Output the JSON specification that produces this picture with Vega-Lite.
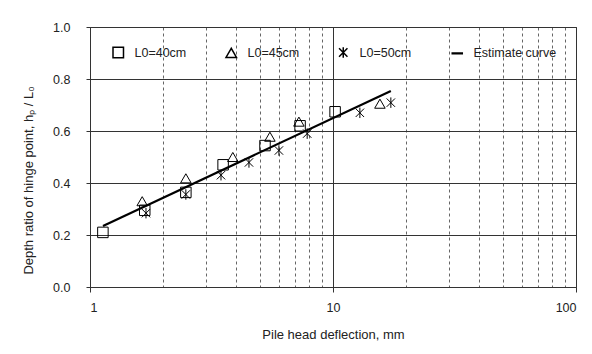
{
  "$schema": "https://vega.github.io/schema/vega-lite/v6.json",
  "width": 486,
  "height": 260,
  "autosize": {"type": "none"},
  "padding": {"left": 90, "top": 27, "right": 16, "bottom": 67},
  "background": "white",
  "config": {
    "view": {"stroke": "#333", "strokeWidth": 1},
    "font": "Liberation Sans"
  },
  "data": {
    "values": [
      {"series": "L0=40cm", "defl": 1.13, "ratio": 0.21},
      {"series": "L0=40cm", "defl": 1.68, "ratio": 0.295},
      {"series": "L0=40cm", "defl": 2.48, "ratio": 0.364},
      {"series": "L0=40cm", "defl": 3.53, "ratio": 0.47},
      {"series": "L0=40cm", "defl": 5.25, "ratio": 0.544},
      {"series": "L0=40cm", "defl": 7.32, "ratio": 0.62},
      {"series": "L0=40cm", "defl": 10.2, "ratio": 0.674},
      {"series": "L0=45cm", "defl": 1.64, "ratio": 0.33},
      {"series": "L0=45cm", "defl": 2.48, "ratio": 0.418},
      {"series": "L0=45cm", "defl": 3.87, "ratio": 0.5},
      {"series": "L0=45cm", "defl": 5.5, "ratio": 0.578},
      {"series": "L0=45cm", "defl": 7.24, "ratio": 0.636},
      {"series": "L0=45cm", "defl": 15.6, "ratio": 0.705},
      {"series": "L0=50cm", "defl": 1.7, "ratio": 0.284},
      {"series": "L0=50cm", "defl": 2.48, "ratio": 0.356},
      {"series": "L0=50cm", "defl": 3.46, "ratio": 0.43},
      {"series": "L0=50cm", "defl": 4.51, "ratio": 0.479},
      {"series": "L0=50cm", "defl": 5.99, "ratio": 0.525},
      {"series": "L0=50cm", "defl": 7.83, "ratio": 0.59},
      {"series": "L0=50cm", "defl": 12.9, "ratio": 0.67},
      {"series": "L0=50cm", "defl": 17.3, "ratio": 0.709},
      {"series": "Estimate curve", "defl": 1.131, "ratio": 0.235},
      {"series": "Estimate curve", "defl": 17.3, "ratio": 0.754}
    ]
  },
  "encoding": {
    "x": {
      "field": "defl",
      "type": "quantitative",
      "title": "Pile head deflection, mm",
      "scale": {"type": "log", "domain": [1, 100], "nice": false},
      "axis": {
        "values": [1, 2, 3, 4, 5, 6, 7, 8, 9, 10, 20, 30, 40, 50, 60, 70, 80, 90, 100],
        "labelExpr": "(datum.value == 1 || datum.value == 10 || datum.value == 100) ? format(datum.value, 'd') : ''",
        "domain": false,
        "grid": true,
        "gridColor": {"condition": {"test": "datum.value == 1 || datum.value == 10 || datum.value == 100", "value": "#333"}, "value": "#666"},
        "gridDash": {"condition": {"test": "datum.value == 1 || datum.value == 10 || datum.value == 100", "value": []}, "value": [3, 3]},
        "tickSize": {"condition": {"test": "datum.value == 1 || datum.value == 10 || datum.value == 100", "value": 5}, "value": 0},
        "tickColor": "#333",
        "labelPadding": 9,
        "labelFontSize": 12.5,
        "labelColor": "#222",
        "titleFontSize": 13,
        "titleFontWeight": "normal",
        "titleColor": "#222",
        "titlePadding": 15
      }
    },
    "y": {
      "field": "ratio",
      "type": "quantitative",
      "title": "Depth ratio of hinge point, hₚ / L₀",
      "scale": {"domain": [0, 1], "nice": false, "zero": true},
      "axis": {
        "values": [0, 0.2, 0.4, 0.6, 0.8, 1.0],
        "format": ".1f",
        "domain": false,
        "grid": true,
        "gridColor": "#333",
        "tickSize": 4,
        "tickColor": "#333",
        "labelPadding": 16,
        "labelFontSize": 12.5,
        "labelColor": "#222",
        "titleFontSize": 13,
        "titleFontWeight": "normal",
        "titleColor": "#222",
        "titleX": -55,
        "titleY": 153
      }
    }
  },
  "layer": [
    {
      "data": {"values": [{}]},
      "mark": {"type": "rect", "color": "white", "strokeWidth": 0},
      "encoding": {
        "x": {"datum": 1, "type": "quantitative", "title": "Pile head deflection, mm"},
        "x2": {"datum": 100},
        "y": {"datum": 0.81, "type": "quantitative", "title": "Depth ratio of hinge point, hₚ / L₀"},
        "y2": {"datum": 0.975}
      }
    },
    {
      "transform": [{"filter": "datum.series == 'Estimate curve'"}],
      "mark": {"type": "line", "color": "black", "strokeWidth": 2.2},
      "encoding": {}
    },
    {
      "transform": [{"filter": "datum.series != 'Estimate curve'"}],
      "mark": {"type": "point", "filled": false, "color": "black", "strokeWidth": 1, "size": 110, "opacity": 1},
      "encoding": {
        "shape": {
          "field": "series",
          "type": "nominal",
          "scale": {
            "domain": ["L0=40cm", "L0=45cm", "L0=50cm", "Estimate curve"],
            "range": ["square", "triangle-up", "M-0.8,-0.8L0.8,0.8M-0.8,0.8L0.8,-0.8M0,-1L0,1", "M-1.1,-0.09L1.1,-0.09M-1.1,0L1.1,0M-1.1,0.09L1.1,0.09"]
          },
          "legend": {
            "orient": "none",
            "legendX": 22,
            "legendY": 19,
            "direction": "horizontal",
            "title": null,
            "labelFontSize": 12.5,
            "labelColor": "#222",
            "labelOffset": 10,
            "symbolSize": 110,
            "symbolStrokeColor": "black",
            "symbolFillColor": "transparent",
            "columnPadding": 36,
            "encode": {
              "symbols": {
                "update": {
                  "strokeWidth": [{"test": "datum.value === 'Estimate curve'", "value": 2.2}, {"value": 1}]
                }
              }
            }
          }
        }
      }
    }
  ]
}
